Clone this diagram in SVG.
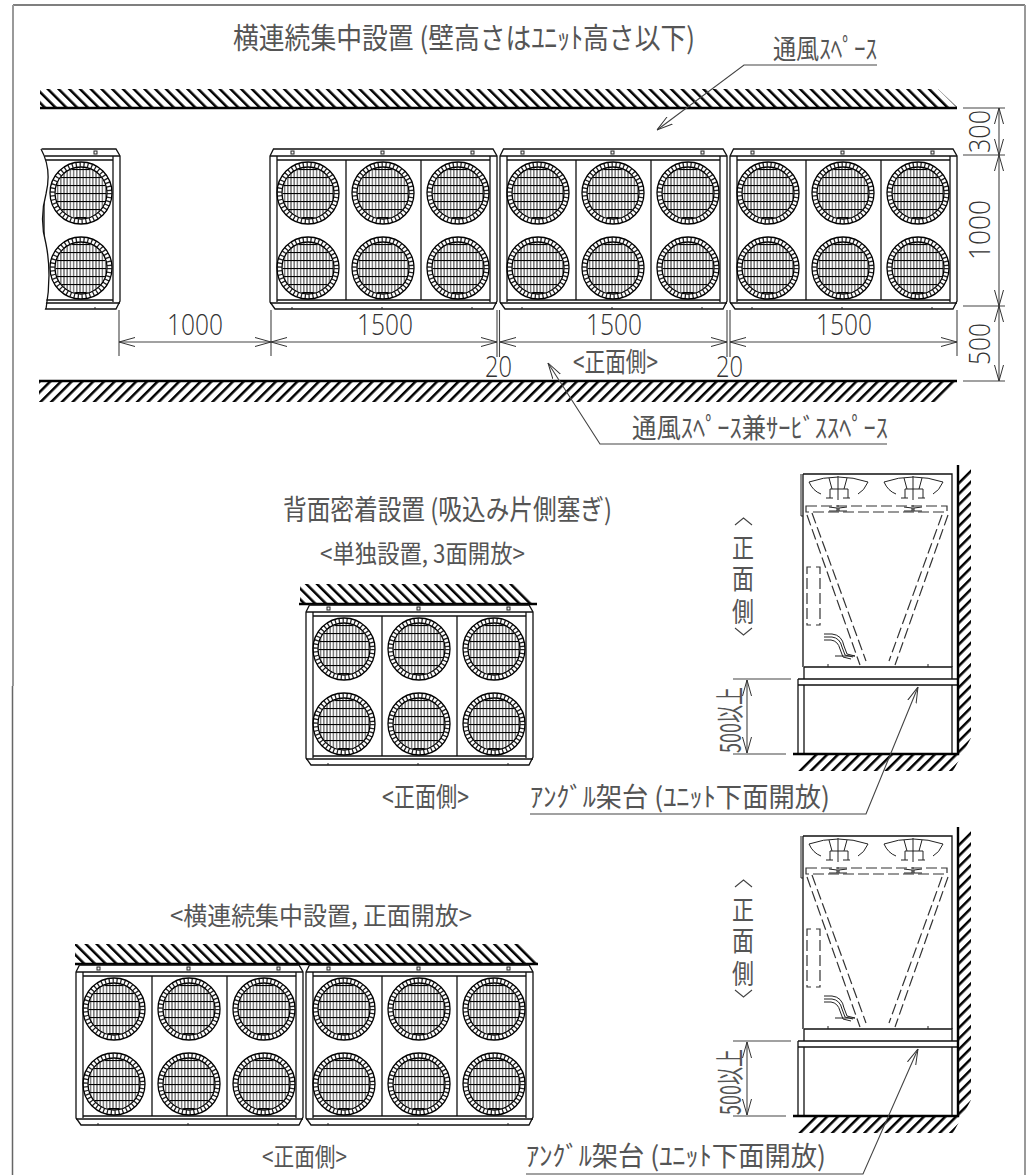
<svg xmlns="http://www.w3.org/2000/svg" xmlns:xlink="http://www.w3.org/1999/xlink" width="1032" height="1175" viewBox="0 0 1032 1175">
<style>
text{font-family:"Noto Sans CJK JP","Liberation Sans",sans-serif;fill:#555;font-weight:400}
.n{font-family:"Open Sans","Liberation Sans",sans-serif;font-weight:300;fill:#333}
.l{fill:none;stroke:#111;stroke-width:1.3}
.t{fill:none;stroke:#222;stroke-width:1}
.d{fill:none;stroke:#333;stroke-width:1.2;stroke-dasharray:11 4}
.dim{fill:none;stroke:#444;stroke-width:1.1}
.arr{marker-start:url(#a);marker-end:url(#a)}
.arr1{marker-end:url(#a)}
.w{fill:none;stroke:#000;stroke-width:2.4}
</style>
<defs>
<marker id="a" viewBox="0 0 16 10" refX="16" refY="5" markerWidth="16" markerHeight="10" markerUnits="userSpaceOnUse" orient="auto-start-reverse"><path d="M0,0.5 L16,5 L0,9.5" fill="none" stroke="#333" stroke-width="1"/></marker>
<pattern id="hb" patternUnits="userSpaceOnUse" width="7.6" height="20" patternTransform="rotate(-45)"><rect width="2.5" height="20" fill="#000"/></pattern>
<pattern id="hf" patternUnits="userSpaceOnUse" width="7.6" height="20" patternTransform="rotate(45)"><rect width="2.5" height="20" fill="#000"/></pattern>
<pattern id="gr" patternUnits="userSpaceOnUse" x="-25" y="-24" width="3.2" height="8"><path d="M1.6,0V8" stroke="#444" stroke-width="1.1"/><path d="M0,0.5H3.2" stroke="#000" stroke-width="1.2"/></pattern>
<clipPath id="partial"><path d="M41,147 Q52,169 46,194 Q39,219 46,244 Q52,274 44,314 H125 V147Z"/></clipPath>
<g id="fan">
<circle r="25.5" fill="url(#gr)"/>
<circle r="28.5" fill="none" stroke="#222" stroke-width="4.6" stroke-dasharray="1.3 2.6"/>
<circle r="31" fill="none" stroke="#000" stroke-width="1.3"/>
<circle r="26" fill="none" stroke="#000" stroke-width="1.3"/>
</g>
<g id="unit">
<path class="l" d="M0,7 L3.500,0 H223 L227,7 V152 L223,160 H5 L0,153Z"/>
<path class="l" d="M0,7H227M7,7V153M220,7V153M7,11H220M7,151H220M0,154H227"/>
<path class="l" stroke-width="1.6" d="M76,11V151M151,11V151"/>
<rect class="t" x="21" y="2" width="3" height="3"/><rect class="t" x="111" y="2" width="3" height="3"/><rect class="t" x="201" y="2" width="3" height="3"/>
<path class="t" d="M22,160v-2M112,160v-2M202,160v-2"/>
<use href="#fan" x="38" y="44"/><use href="#fan" x="113" y="44"/><use href="#fan" x="188" y="44"/>
<use href="#fan" x="38" y="119"/><use href="#fan" x="113" y="119"/><use href="#fan" x="188" y="119"/>
</g>
<g id="sideFan">
<path class="t" d="M809,482 Q838,472 868,482 M809,482 Q813,491 821,494 M868,482 Q864,491 858,494"/>
<path class="t" d="M838,476V500M829,478l3,11M847,478l-3,11M830,489H848M830,489V498M848,489V498M826,498h7M843,498h7"/>
<path class="t" d="M829,507l8,1v3h-8M847,507l-8,1v3h8M838,505v7"/>
</g>
<g id="side">
<path class="l" d="M803,474H952V667M803,474V667"/>
<path class="t" d="M801,474V516H803"/>
<use href="#sideFan"/><use href="#sideFan" x="75"/>
<rect class="d" x="806" y="506" width="141" height="6"/>
<path class="d" d="M807,515L860,665M812,513L866,661M948,515L895,665M942,515L889,661"/>
<path class="d" stroke-dasharray="9 3" d="M811,567H807V625H811M816,567H820V625H816"/>
<path class="t" d="M824,637h8q8,1 10,10l3,8 8,2M824,640h7q7,1 9,9l3,8 8,2M824,634h8q10,1 12,12l3,8 8,2M835,656h20"/>
<path class="l" d="M804,667H952V679M804,667V679"/>
<path class="t" d="M828,664v3M928,664v3"/>
<path class="l" stroke-width="1.6" d="M798,679H957M798,685H957M798,679V754M804,685V754M952,685V754"/>
<path class="w" d="M958,465V754H793"/>
<path fill="url(#hf)" d="M959,480 L971,465 V738 L953,771 H793 L810,755 H959Z"/>
<path class="dim arr" d="M747,680V753"/>
<path class="dim" d="M733,679H791M733,754H786"/>
<path fill="none" stroke="#444" stroke-width="1.1" d="M735,525L743.500,518L752,525M735,628L743.500,635L752,628"/>
<text x="732" y="558" font-size="27" textLength="22" lengthAdjust="spacingAndGlyphs">正</text>
<text x="732" y="589" font-size="27" textLength="22" lengthAdjust="spacingAndGlyphs">面</text>
<text x="732" y="622" font-size="27" textLength="22" lengthAdjust="spacingAndGlyphs">側</text>
<text transform="translate(741,753) rotate(-90)" font-size="29" textLength="66" lengthAdjust="spacingAndGlyphs">500以上</text>
</g>
</defs>
<rect width="1032" height="1175" fill="#fff"/>
<g id="frame" fill="none">
<path stroke="#555" stroke-width="1.4" d="M13,5H1025"/>
<path stroke="#999" stroke-width="2" d="M13,5V686M1025,5V1175"/>
<path stroke="#666" stroke-width="1.500" d="M12.500,686V1175"/>
</g>
<g id="walls">
<path fill="url(#hb)" d="M40,89H938L957,107H40Z"/><path class="w" d="M40,108H957"/>
<path fill="url(#hf)" d="M39,382H957L940,402H39Z"/><path class="w" d="M39,381H957"/>
<path fill="url(#hb)" d="M300,584H518L537,603H300Z"/><path class="w" d="M299,604H537"/>
<path fill="url(#hb)" d="M75,944H519L538,963H75Z"/><path class="w" d="M75,964H538"/>
</g>
<g id="unit-partial"><g clip-path="url(#partial)"><use href="#unit" x="-107" y="149"/></g>
<path class="l" d="M41,149 Q52,169 46,194 Q39,219 46,244 Q52,274 46,309"/></g>
<g id="unit-1"><use href="#unit" x="270" y="149"/></g>
<g id="unit-2"><use href="#unit" x="500" y="149"/></g>
<g id="unit-3"><use href="#unit" x="730" y="149"/></g>
<g id="unit-4"><use href="#unit" x="306" y="605"/></g>
<g id="unit-5"><use href="#unit" x="76" y="965"/></g>
<g id="unit-6"><use href="#unit" x="306" y="965"/></g>
<g id="side-upper"><use href="#side"/></g>
<g id="side-lower"><use href="#side" y="362"/></g>
<g id="connectors">
<path class="dim" d="M119,310V356M271,310V356M497,310V357M499.500,310V357M727,310V357M730,310V357M957,310V356"/>
<path class="dim arr" d="M119,342H271"/><path class="dim arr" d="M271,342H497"/><path class="dim arr" d="M500,342H727"/><path class="dim arr" d="M730,342H957"/>
<path class="dim" d="M963,108H1005M963,155H1005M963,306H1005M963,381H1005"/>
<path class="dim arr" d="M999,108V155"/><path class="dim arr" d="M999,155V306"/><path class="dim arr" d="M999,306V381"/>
<path class="dim arr1" d="M877,65H744L657,130"/>
<path class="dim arr1" d="M887,444H600L548,363"/>
<path class="dim arr1" d="M530,814H866L918,687"/>
<path class="dim arr1" d="M526,1174H863L918,1049"/>
</g>
<g id="labels">
<text x="233" y="49" font-size="29" textLength="462" lengthAdjust="spacingAndGlyphs">横連続集中設置 (壁高さはﾕﾆｯﾄ高さ以下)</text>
<text x="773" y="59" font-size="27" textLength="104" lengthAdjust="spacingAndGlyphs">通風ｽﾍﾟｰｽ</text>
<text class="n" x="167" y="335" font-size="30" textLength="56" lengthAdjust="spacingAndGlyphs">1000</text>
<text class="n" x="357" y="335" font-size="30" textLength="56" lengthAdjust="spacingAndGlyphs">1500</text>
<text class="n" x="586" y="335" font-size="30" textLength="56" lengthAdjust="spacingAndGlyphs">1500</text>
<text class="n" x="816" y="335" font-size="30" textLength="56" lengthAdjust="spacingAndGlyphs">1500</text>
<text class="n" x="485" y="377" font-size="30" textLength="27" lengthAdjust="spacingAndGlyphs">20</text>
<text class="n" x="716" y="377" font-size="30" textLength="27" lengthAdjust="spacingAndGlyphs">20</text>
<text x="573" y="372" font-size="27" textLength="85" lengthAdjust="spacingAndGlyphs">&lt;正面側&gt;</text>
<text x="632" y="438" font-size="27" textLength="256" lengthAdjust="spacingAndGlyphs">通風ｽﾍﾟｰｽ兼ｻｰﾋﾞｽｽﾍﾟｰｽ</text>
<text class="n" transform="translate(990,153) rotate(-90)" font-size="30" textLength="43" lengthAdjust="spacingAndGlyphs">300</text>
<text class="n" transform="translate(990,260) rotate(-90)" font-size="30" textLength="60" lengthAdjust="spacingAndGlyphs">1000</text>
<text class="n" transform="translate(990,365) rotate(-90)" font-size="30" textLength="42" lengthAdjust="spacingAndGlyphs">500</text>
<text x="283" y="520" font-size="28" textLength="329" lengthAdjust="spacingAndGlyphs">背面密着設置 (吸込み片側塞ぎ)</text>
<text x="320" y="563" font-size="25" textLength="205" lengthAdjust="spacingAndGlyphs">&lt;単独設置, 3面開放&gt;</text>
<text x="382" y="807" font-size="27" textLength="87" lengthAdjust="spacingAndGlyphs">&lt;正面側&gt;</text>
<text x="530" y="807" font-size="27" textLength="300" lengthAdjust="spacingAndGlyphs">ｱﾝｸﾞﾙ架台 (ﾕﾆｯﾄ下面開放)</text>
<text x="170" y="925" font-size="25" textLength="302" lengthAdjust="spacingAndGlyphs">&lt;横連続集中設置, 正面開放&gt;</text>
<text x="262" y="1166" font-size="25" textLength="85" lengthAdjust="spacingAndGlyphs">&lt;正面側&gt;</text>
<text x="526" y="1166" font-size="27" textLength="300" lengthAdjust="spacingAndGlyphs">ｱﾝｸﾞﾙ架台 (ﾕﾆｯﾄ下面開放)</text>
</g>
</svg>
